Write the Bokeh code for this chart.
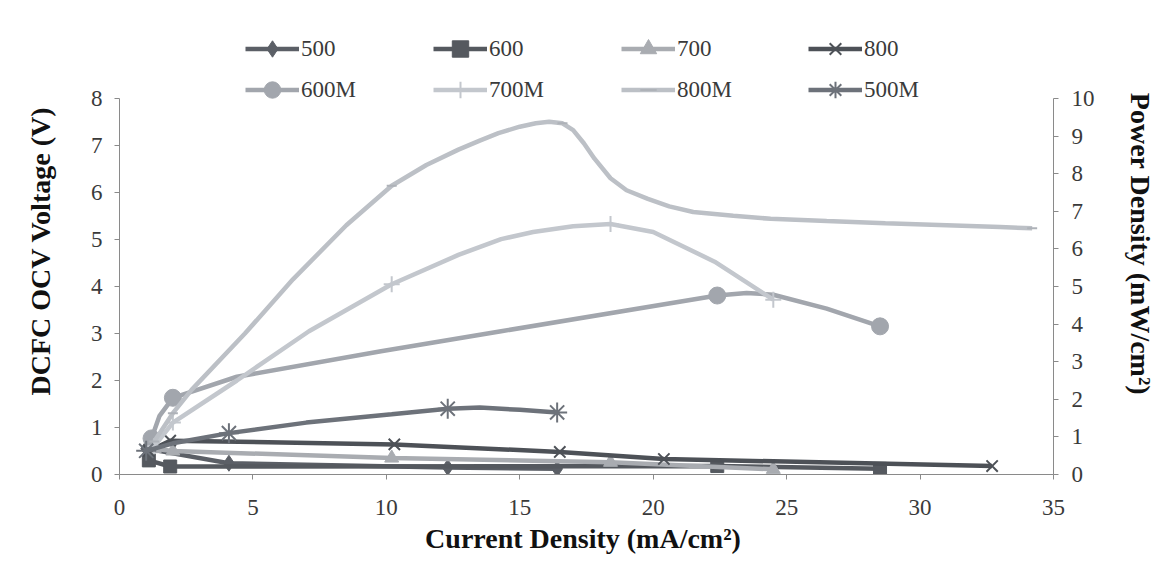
from bokeh.plotting import figure
from bokeh.models import Range1d, LinearAxis, Legend, LegendItem, FixedTicker
from bokeh.embed import file_html
from bokeh.resources import INLINE

# ---------------- data ----------------
# OCV voltage series (left axis, V)
x500 = [1.0, 4.1, 12.3, 16.4]
v500 = [0.55, 0.24, 0.15, 0.12]
x600 = [1.1, 1.9, 22.4, 28.5]
v600 = [0.30, 0.17, 0.18, 0.12]
x700 = [1.3, 2.0, 10.2, 18.4, 24.5]
v700 = [0.55, 0.50, 0.35, 0.26, 0.11]
x800 = [1.1, 1.9, 10.3, 16.5, 20.4, 32.7]
v800 = [0.50, 0.72, 0.64, 0.48, 0.33, 0.18]

# power density series (right axis, mW/cm2) - marker points
x600M = [1.2, 2.0, 22.4, 28.5]
p600M = [0.96, 2.04, 4.76, 3.94]
x700M = [1.3, 2.0, 10.2, 18.4, 24.5]
p700M = [0.75, 1.38, 5.06, 6.66, 4.65]
x800M = [1.3, 2.0, 10.2, 16.6, 34.2]
p800M = [0.88, 1.63, 7.68, 9.34, 6.55]
x500M = [1.0, 4.1, 12.3, 16.4]
p500M = [0.63, 1.10, 1.75, 1.65]

# smoothed curve traces
cx600M = [1.2, 1.5, 2.0, 4.4, 9.8, 14.3, 22.4, 23.5, 24.5, 26.5, 28.5]
cp600M = [0.96, 1.56, 2.04, 2.60, 3.28, 3.81, 4.76, 4.83, 4.78, 4.41, 3.94]
cx700M = [1.3, 2.0, 4.4, 7.1, 10.2, 12.7, 14.3, 15.5, 17.0, 18.4, 20.0, 22.3, 24.5]
cp700M = [0.75, 1.38, 2.50, 3.81, 5.06, 5.84, 6.26, 6.45, 6.60, 6.66, 6.45, 5.66, 4.65]
cx800M = [1.3, 2.0, 2.7, 4.7, 6.5, 8.5, 10.2, 11.5, 12.7, 13.5, 14.2, 15.0, 15.6, 16.1,
          16.6, 17.0, 17.4, 17.8, 18.4, 19.0, 19.8, 20.6, 21.5, 23.0, 24.4, 26.5, 28.7,
          31.0, 33.0, 34.2]
cp800M = [0.88, 1.63, 2.25, 3.75, 5.19, 6.63, 7.68, 8.23, 8.64, 8.88, 9.08, 9.25, 9.34, 9.38,
          9.34, 9.16, 8.81, 8.40, 7.88, 7.56, 7.33, 7.13, 6.98, 6.88, 6.80, 6.74, 6.68,
          6.63, 6.58, 6.55]
cx500M = [1.0, 2.0, 4.1, 7.0, 10.2, 12.3, 13.5, 15.0, 16.4]
cp500M = [0.63, 0.83, 1.10, 1.38, 1.60, 1.75, 1.78, 1.72, 1.65]

x_ticks = [0, 5, 10, 15, 20, 25, 30, 35]
left_ticks = [0, 1, 2, 3, 4, 5, 6, 7, 8]
right_ticks = [0, 1, 2, 3, 4, 5, 6, 7, 8, 9, 10]

# ---------------- layout ----------------
SERIF = "Liberation Serif"
C500, C600, C700, C800 = "#5b5f66", "#55595f", "#a9acb1", "#4d5157"
C600M, C700M, C800M, C500M = "#a2a6ad", "#c3c7cd", "#bcc0c6", "#6d727a"
LW = 4.5
TICK_FONT = "23px"
TITLE_FONT = "28px"

W, H = 1160, 580
LEFT, RIGHT, BOTTOM, TOP = 119, 107, 106, 20
AXIS_PX = 376       # pixel height of the 0..8 (0..10) axis span
FRAME_H = H - TOP - BOTTOM
V_TOP = 8 * FRAME_H / AXIS_PX
P_TOP = 10 * FRAME_H / AXIS_PX
LEGEND_COLS_X = [126, 314, 502, 689]   # legend column offsets from the frame's left edge

p = figure(width=W, height=H, output_backend="svg", toolbar_location=None,
           x_range=Range1d(0, 35), y_range=Range1d(0, V_TOP),
           min_border_left=LEFT, min_border_right=RIGHT,
           min_border_top=TOP, min_border_bottom=BOTTOM)
p.extra_y_ranges = {"pd": Range1d(0, P_TOP)}
p.outline_line_color = None
p.xgrid.visible = False
p.ygrid.visible = False
p.background_fill_color = "white"
p.border_fill_color = "white"

def style_axis(ax, ticks):
    ax.ticker = FixedTicker(ticks=ticks)
    ax.axis_line_color = "#8a8a8a"
    ax.major_tick_line_color = "#8a8a8a"
    ax.major_tick_out = 5
    ax.major_tick_in = 0
    ax.minor_tick_line_color = None
    ax.major_label_text_font = SERIF
    ax.major_label_text_font_size = TICK_FONT
    ax.major_label_text_color = "#3a3a3a"
    ax.axis_label_text_font = SERIF
    ax.axis_label_text_font_style = "bold"
    ax.axis_label_text_font_size = TITLE_FONT
    ax.axis_label_text_color = "#111111"

style_axis(p.xaxis[0], x_ticks)
p.xaxis[0].axis_label = "Current Density  (mA/cm\u00b2)"
p.xaxis[0].major_label_standoff = 20
p.xaxis[0].axis_label_standoff = 5

style_axis(p.yaxis[0], left_ticks)
p.yaxis[0].bounds = (0, 8)
p.yaxis[0].axis_label = "DCFC OCV Voltage  (V)"
p.yaxis[0].major_label_standoff = 12
p.yaxis[0].axis_label_standoff = 32

raxis = LinearAxis(y_range_name="pd", axis_label="Power Density  (mW/cm\u00b2)")
style_axis(raxis, right_ticks)
raxis.bounds = (0, 10)
raxis.major_label_standoff = 13
raxis.axis_label_standoff = 27
p.add_layout(raxis, "right")

# voltage series
l = p.line(x500, v500, line_color=C500, line_width=LW)
m = p.scatter(x500, v500, marker="diamond", size=16, fill_color=C500, line_color=C500)
it500 = LegendItem(label="500", renderers=[l, m])
l = p.line(x600, v600, line_color=C600, line_width=LW)
m = p.scatter(x600, v600, marker="square", size=13, fill_color=C600, line_color=C600)
it600 = LegendItem(label="600", renderers=[l, m])
l = p.line(x700, v700, line_color=C700, line_width=LW)
m = p.scatter(x700, v700, marker="triangle", size=14, fill_color=C700, line_color=C700)
it700 = LegendItem(label="700", renderers=[l, m])
l = p.line(x800, v800, line_color=C800, line_width=LW)
m = p.scatter(x800, v800, marker="x", size=16, line_color=C800, line_width=2)
it800 = LegendItem(label="800", renderers=[l, m])

# power density series
l = p.line(cx600M, cp600M, line_color=C600M, line_width=LW, y_range_name="pd")
m = p.scatter(x600M, p600M, marker="circle", size=17, fill_color=C600M, line_color=C600M, y_range_name="pd")
it600M = LegendItem(label="600M", renderers=[l, m])
l = p.line(cx700M, cp700M, line_color=C700M, line_width=LW, y_range_name="pd")
m = p.scatter(x700M, p700M, marker="cross", size=16, line_color=C700M, line_width=2, y_range_name="pd")
it700M = LegendItem(label="700M", renderers=[l, m])
l = p.line(cx800M, cp800M, line_color=C800M, line_width=LW, y_range_name="pd")
m = p.scatter(x800M, p800M, marker="dash", size=10, line_color="#aeb2b8", line_width=2, y_range_name="pd")
it800M = LegendItem(label="800M", renderers=[l, m])
l = p.line(cx500M, cp500M, line_color=C500M, line_width=LW, y_range_name="pd")
m = p.scatter(x500M, p500M, marker="asterisk", size=20, line_color=C500M, line_width=2, y_range_name="pd")
it500M = LegendItem(label="500M", renderers=[l, m])

columns = [[it500, it600M], [it600, it700M], [it700, it800M], [it800, it500M]]
for cx, col in zip(LEGEND_COLS_X, columns):
    lg = Legend(items=col, orientation="vertical", location=(cx, AXIS_PX - 12),
                glyph_width=54, glyph_height=41, label_height=41, label_width=60,
                label_standoff=2, spacing=0, padding=0, margin=0,
                label_text_font=SERIF, label_text_font_size=TICK_FONT, label_text_color="#3a3a3a",
                border_line_color=None, background_fill_alpha=0)
    p.add_layout(lg, "center")

open("out.html", "w").write(file_html(p, INLINE))
